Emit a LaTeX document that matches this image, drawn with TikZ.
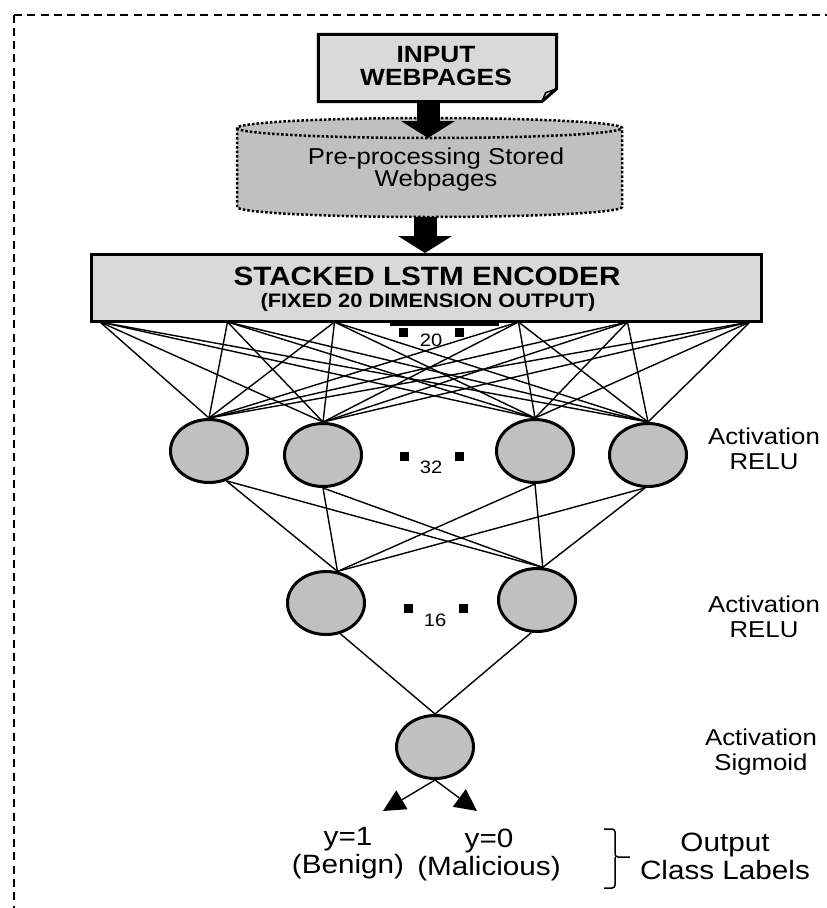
\documentclass[tikz,border=0pt]{standalone}
\usepackage{fontspec}
\setmainfont{Liberation Sans}[FakeStretch=1.12]
\usetikzlibrary{arrows.meta,shapes.geometric,positioning}
\definecolor{cellgray}{RGB}{192,192,192}
\definecolor{boxgray}{RGB}{217,217,217}

\begin{document}
\begin{tikzpicture}[x=1pt,y=-1pt,
  every node/.style={inner sep=0pt, align=center, font=\fontsize{23}{25}\selectfont},
  cell/.style={ellipse, draw, line width=3pt, fill=cellgray, minimum width=77pt, minimum height=63pt},
  wire/.style={line width=1.4pt},
  fatarrow/.style={line width=23pt, -{Triangle[width=54pt,length=17pt,line width=0pt]}},
  outarrow/.style={line width=1.4pt, -{Triangle[width=22pt,length=22pt,line width=0pt]}},
  count/.style={font=\fontsize{18}{18}\selectfont},
  biglabel/.style={font=\fontsize{26.5}{28}\selectfont},
  frame/.style={line width=2pt, dash pattern=on 8pt off 5.3pt}]
\useasboundingbox (0,0) rectangle (827,908);

% dashed frame, only top and left show
\draw[frame] (14,14.5) -- (14,912);
\draw[frame] (14,14.5) -- (832,14.5);

% input document
\node[minimum width=238pt, minimum height=67pt] (in) at (437.5,68) {};
\draw[line width=3pt, fill=boxgray] (in.north west) -- (in.north east) -- ([yshift=13pt]in.south east)
  -- ([xshift=-15pt]in.south east) -- (in.south west) -- cycle;
\draw[line width=1.5pt] ([xshift=-15pt]in.south east) -- ([xshift=-11pt,yshift=9pt]in.south east)
  -- ([yshift=13pt]in.south east);
\node[font=\fontsize{23.5}{23.5}\selectfont\bfseries] (intext) at (436,66) {INPUT\\WEBPAGES};

% store
\draw[line width=2.5pt, dash pattern=on 2.5pt off 2pt, fill=cellgray]
  (237,128) -- (237,207) arc[start angle=180, end angle=0, x radius=192.5, y radius=10]
  -- (622,128) arc[start angle=0, end angle=-180, x radius=192.5, y radius=10] -- cycle;
\draw[line width=2.5pt, dash pattern=on 2.5pt off 2pt]
  (237,128) arc[start angle=180, end angle=0, x radius=192.5, y radius=10];
\node[font=\fontsize{23}{22}\selectfont] (store) at (436,170) {Pre-processing Stored\\Webpages};
\coordinate (storetop) at (428,138);
\coordinate (storebot) at (425,217);

% encoder
\node[draw, line width=3pt, fill=boxgray, minimum width=670pt, minimum height=67pt] (enc) at (426.5,288) {};
\node[font=\fontsize{26.5}{26.5}\selectfont\bfseries, anchor=base] (enctitle) at (427,285) {STACKED LSTM ENCODER};
\node[font=\fontsize{19.5}{19.5}\selectfont\bfseries, anchor=base] (encsub) at (428,307) {(FIXED 20 DIMENSION OUTPUT)};

\draw[fatarrow] (in.south -| storetop) -- (storetop);
\draw[fatarrow] (storebot) -- (storebot |- enc.north);

\draw[line width=3pt] (390,324) -- (499,324);
\foreach \x in {403,459} \fill (\x-4.5,327.5) rectangle ++(9,9);
\node[count] (n20) at (431,340) {20};

% taps under the encoder
\foreach \i/\x in {1/100,2/227.5,3/334.5,4/518.5,5/627.5,6/750}
  \coordinate (t\i) at (\x,322);

% layers
\node[cell] (h1) at (209,451) {};
\node[cell] (h2) at (323,455) {};
\node[cell] (h3) at (535,451) {};
\node[cell] (h4) at (648,455) {};
\node[cell] (g1) at (326,603) {};
\node[cell] (g2) at (537,600) {};
\node[cell] (out) at (435,747) {};

\foreach \i in {1,...,6}
  \foreach \j in {1,...,4}
    \draw[wire] (t\i) -- (h\j.north);
\foreach \j/\a in {1/-60,2/-90,3/-90,4/-95}
  \foreach \k/\b in {1/70,2/80}
    \draw[wire] (h\j.\a) -- (g\k.\b);
\draw[wire] (g1.-65) -- (out.north);
\draw[wire] (g2.-100) -- (out.north);

\foreach \x in {404,459} \fill (\x-4.5,451.5) rectangle ++(9,9);
\node[count] (n32) at (431,467) {32};
\foreach \x in {408,463} \fill (\x-4.5,603.5) rectangle ++(9,9);
\node[count] (n16) at (435,620) {16};

% outputs
\coordinate (to1) at (383,811);
\coordinate (to0) at (477,811);
\draw[outarrow] (out.south) -- (to1);
\draw[outarrow] (out.south) -- (to0);
\node[biglabel] (ben) at (348,853) {y=1\\(Benign)};
\node[biglabel] (mal) at (489,855) {y=0\\(Malicious)};
\draw[line width=1.5pt, rounded corners=3pt] (604,829) -- (615,829) -- (615,857) -- (630,857);
\draw[line width=1.5pt, rounded corners=3pt] (615,857) -- (615,888) -- (604,888);
\node[biglabel] (cls) at (725,856) {Output\\Class Labels};

\node (act1) at (764,449) {Activation\\RELU};
\node (act2) at (764,617) {Activation\\RELU};
\node (act3) at (761,752) {Activation\\Sigmoid};
\end{tikzpicture}
\end{document}
